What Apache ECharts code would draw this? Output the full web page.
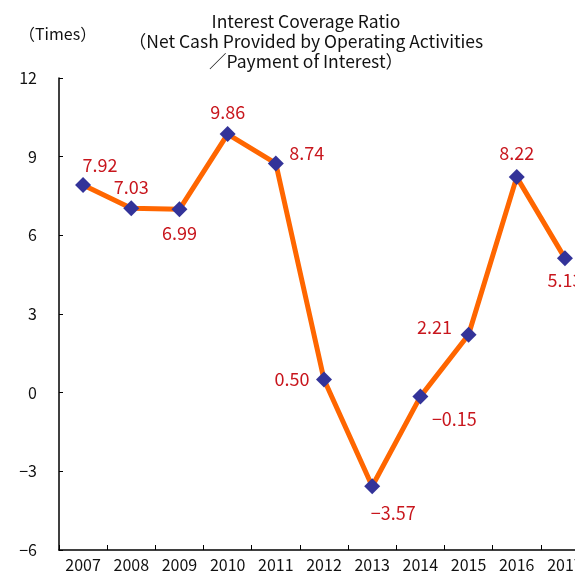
<!DOCTYPE html>
<html>
<head>
<meta charset="utf-8">
<script src="https://cdn.jsdelivr.net/npm/echarts@6/dist/echarts.min.js"></script>
<style>
  html, body { margin: 0; padding: 0; overflow: hidden; background: #fff; }
  #chart { width: 600px; height: 578px; }
</style>
</head>
<body>
<div id="chart"></div>
<script>
const years = ['2007', '2008', '2009', '2010', '2011', '2012', '2013', '2014', '2015', '2016', '2017']
const ratio = [7.92, 7.03, 6.99, 9.86, 8.74, 0.50, -3.57, -0.15, 2.21, 8.22, 5.13]
const yTicks = { min: -6, max: 12, interval: 3 }

// label offsets from the marker centre, px
const labelOffsets = [
  [17, -20], [0, -21], [0, 24], [0, -22], [31, -10], [-32, 0],
  [21, 27], [34, 23], [-34, -8], [0, -24], [0, 22],
]

const font = '"Noto Sans CJK JP", "Noto Sans", sans-serif'
const chart = echarts.init(document.getElementById('chart'), null, { renderer: 'canvas' })

chart.setOption({
  animation: false,
  title: {
    text: 'Interest Coverage Ratio\n（Net Cash Provided by Operating Activities\n／Payment of Interest）',
    left: 301,
    top: 6,
    textAlign: 'center',
    textStyle: {
      fontFamily: font,
      fontSize: 17.5,
      fontWeight: 'normal',
      color: '#111',
      lineHeight: 20,
    },
  },
  graphic: [{
    type: 'text',
    left: 19,
    top: 26,
    style: { text: '（Times）', font: '16px ' + font, fill: '#111' },
  }],
  grid: { left: 59, top: 78, right: 11, bottom: 28 },
  xAxis: {
    type: 'category',
    data: years,
    boundaryGap: true,
    axisLine: { onZero: false, lineStyle: { color: '#000', width: 1.5 } },
    axisTick: { show: true, inside: true, length: 5, lineStyle: { color: '#000' } },
    axisLabel: { color: '#111', fontFamily: font, fontSize: 16, margin: 7 },
  },
  yAxis: {
    type: 'value',
    min: yTicks.min,
    max: yTicks.max,
    interval: yTicks.interval,
    axisLine: { show: true, lineStyle: { color: '#000', width: 1.5 } },
    axisTick: { show: true, inside: true, length: 4, lineStyle: { color: '#000' } },
    splitLine: { show: false },
    axisLabel: {
      color: '#111',
      fontFamily: font,
      fontSize: 16,
      margin: 22,
      formatter: (v) => String(v).replace('-', '−'),
    },
  },
  series: [{
    type: 'line',
    data: ratio.map((v, i) => ({
      value: v,
      label: { offset: labelOffsets[i] },
    })),
    lineStyle: { color: '#ff6600', width: 5 },
    symbol: 'diamond',
    symbolSize: 16,
    itemStyle: { color: '#333399' },
    emphasis: { disabled: true },
    label: {
      show: true,
      position: 'inside',
      color: '#c8161d',
      fontFamily: font,
      fontSize: 18,
      formatter: (p) => p.value.toFixed(2).replace('-', '−'),
    },
  }],
})
</script>
</body>
</html>
